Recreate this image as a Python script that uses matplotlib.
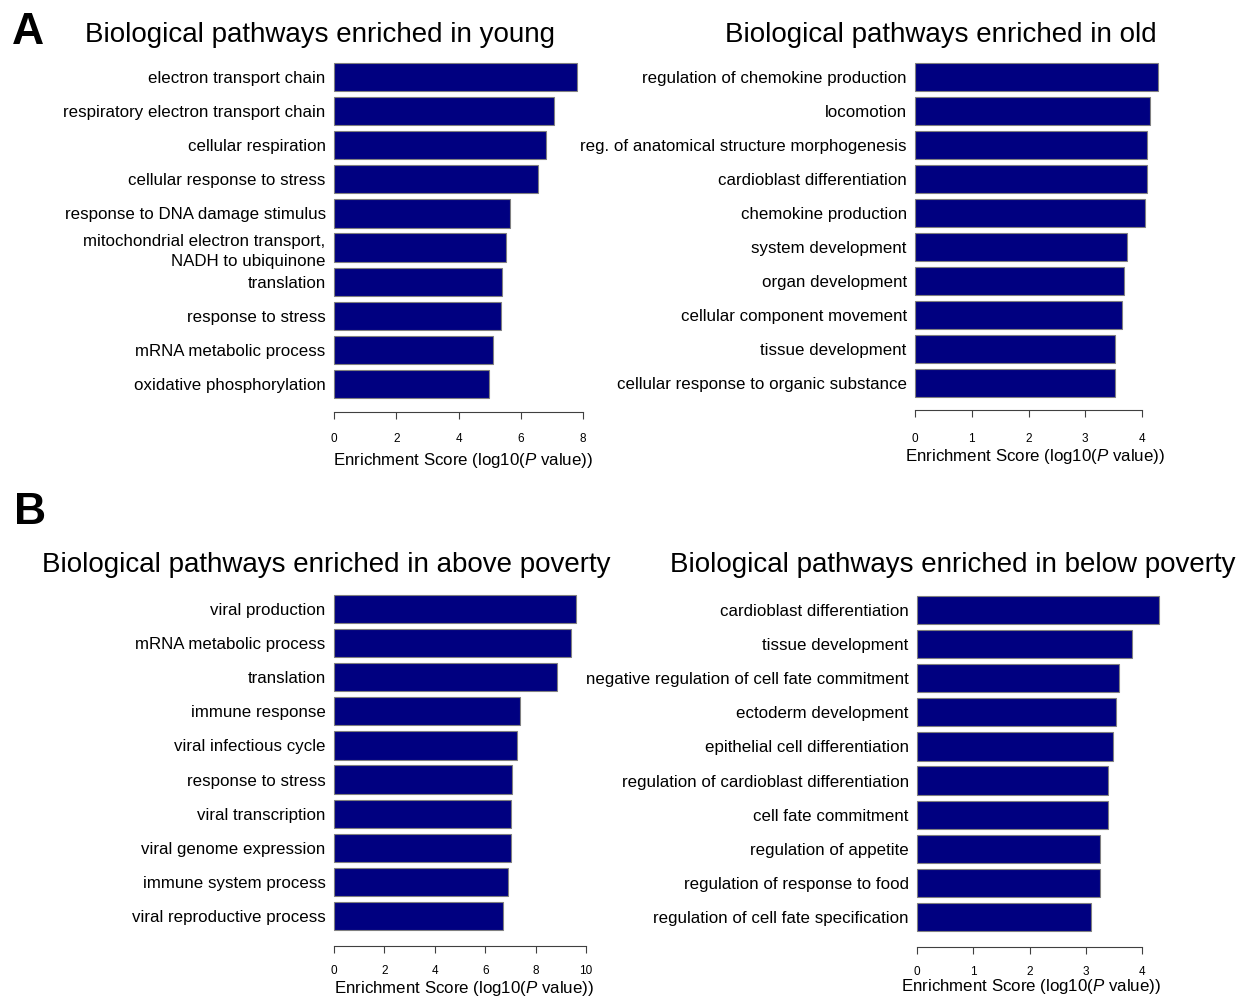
import matplotlib
matplotlib.use("Agg")
import matplotlib.pyplot as plt

plt.rcParams['font.family'] = ['Liberation Sans', 'DejaVu Sans']
plt.rcParams['mathtext.fontset'] = 'custom'
plt.rcParams['mathtext.rm'] = 'Liberation Sans'
plt.rcParams['mathtext.it'] = 'Liberation Sans:italic'

# enrichment results, top 10 pathways per group
young_terms = ["electron transport chain", "respiratory electron transport chain",
               "cellular respiration", "cellular response to stress",
               "response to DNA damage stimulus",
               "mitochondrial electron transport,\nNADH to ubiquinone",
               "translation", "response to stress", "mRNA metabolic process",
               "oxidative phosphorylation"]
young_scores = [7.81, 7.07, 6.82, 6.56, 5.66, 5.53, 5.40, 5.37, 5.11, 4.98]

old_terms = ["regulation of chemokine production", "locomotion",
             "reg. of anatomical structure morphogenesis",
             "cardioblast differentiation", "chemokine production",
             "system development", "organ development",
             "cellular component movement", "tissue development",
             "cellular response to organic substance"]
old_scores = [4.28, 4.14, 4.09, 4.09, 4.05, 3.74, 3.68, 3.65, 3.52, 3.52]

above_terms = ["viral production", "mRNA metabolic process", "translation",
               "immune response", "viral infectious cycle", "response to stress",
               "viral transcription", "viral genome expression",
               "immune system process", "viral reproductive process"]
above_scores = [9.60, 9.40, 8.85, 7.38, 7.26, 7.06, 7.02, 7.02, 6.90, 6.70]

below_terms = ["cardioblast differentiation", "tissue development",
               "negative regulation of cell fate commitment",
               "ectoderm development", "epithelial cell differentiation",
               "regulation of cardioblast differentiation", "cell fate commitment",
               "regulation of appetite", "regulation of response to food",
               "regulation of cell fate specification"]
below_scores = [4.30, 3.82, 3.59, 3.54, 3.48, 3.40, 3.40, 3.25, 3.25, 3.09]

W, H = 1250, 998
fig = plt.figure(figsize=(W / 100, H / 100), dpi=100)
XLABEL = r"Enrichment Score (log10($\it{P}$ value))"


def panel(x0, x1, yc0, yc1, xmax, terms, scores, title, title_xy,
          outward, tpad, xlab_xy):
    n = len(terms)
    step = (yc1 - yc0) / (n - 1)
    top = yc0 - step / 2
    bot = yc1 + step / 2
    ax = fig.add_axes([x0 / W, 1 - bot / H, (x1 - x0) / W, (bot - top) / H])
    pos = list(range(n))
    bars = ax.barh(pos, scores, height=0.83, color="#000080",
                   edgecolor="#808080", linewidth=0.8)
    for b in bars:
        b.set_clip_on(False)
    ax.set_ylim(n - 0.5, -0.5)
    ax.set_xlim(0, xmax)
    ax.set_yticks(pos)
    ax.set_yticklabels(terms, fontsize=12.2, ha="right", linespacing=1.4)
    ax.tick_params(axis="y", length=0, pad=6)
    ax.set_xticks(range(0, xmax + 1, 2 if xmax > 4 else 1))
    ax.tick_params(axis="x", labelsize=8.5, length=5, width=0.8,
                   color="#404040", pad=tpad)
    for s in ("top", "right", "left"):
        ax.spines[s].set_visible(False)
    ax.spines["bottom"].set_position(("outward", outward))
    ax.spines["bottom"].set_bounds(0, xmax)
    ax.spines["bottom"].set_color("#404040")
    ax.spines["bottom"].set_linewidth(0.8)
    fig.text(xlab_xy[0] / W, 1 - xlab_xy[1] / H, XLABEL, fontsize=12.2,
             ha="center", va="center")
    fig.text(title_xy[0] / W, 1 - title_xy[1] / H, title, fontsize=20,
             ha="center", va="center")
    return ax


panel(334, 583, 77, 384, 8, young_terms, young_scores,
      "Biological pathways enriched in young", (320, 35), 8, 10, (463, 460))
panel(915, 1142, 77, 383, 4, old_terms, old_scores,
      "Biological pathways enriched in old", (941, 35), 7, 11.5, (1035, 456))
panel(334, 586, 609, 916, 10, above_terms, above_scores,
      "Biological pathways enriched in above poverty", (326, 565), 9, 9,
      (464, 989))
panel(917, 1142, 610, 917, 4, below_terms, below_scores,
      "Biological pathways enriched in below poverty", (953, 565), 9, 9,
      (1031, 986))

fig.text(12 / W, 1 - 44 / H, "A", fontsize=32, fontweight="bold",
         ha="left", va="baseline")
fig.text(14 / W, 1 - 524 / H, "B", fontsize=32, fontweight="bold",
         ha="left", va="baseline")

fig.savefig("out.png", dpi=100, facecolor="white")
